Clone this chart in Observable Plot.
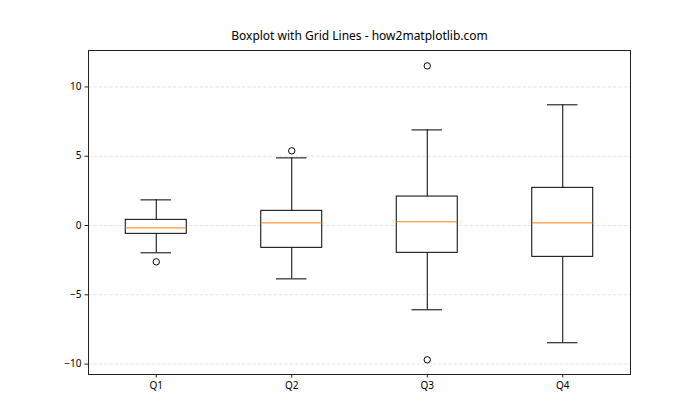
<!DOCTYPE html>
<html>
<head>
<meta charset="utf-8">
<script src="https://cdn.jsdelivr.net/npm/d3@7"></script>
<script src="https://cdn.jsdelivr.net/npm/@observablehq/plot@0.6"></script>
<style>
  html, body { margin: 0; padding: 0; background: white; }
  #chart { width: 700px; height: 420px; }
</style>
</head>
<body>
<div id="chart"></div>
<script>
// Data
const categories = ["Q1", "Q2", "Q3", "Q4"];
const whiskerLow  = [-1.97, -3.85, -6.08, -8.46];
const boxLow      = [-0.60, -1.61, -1.97, -2.26];
const medians     = [-0.17, 0.19, 0.27, 0.19];
const boxHigh     = [0.41, 1.06, 2.09, 2.72];
const whiskerHigh = [1.85, 4.88, 6.90, 8.71];
const outlierCat  = ["Q1", "Q2", "Q3", "Q3"];
const outlierVal  = [-2.62, 5.39, 11.52, -9.69];
const yTicks = [-10, -5, 0, 5, 10];
const title = "Boxplot with Grid Lines - how2matplotlib.com";

const halfBox = 0.225, halfCap = 0.1125;
const stats = categories.map((c, i) => ({
  cat: c, pos: i + 1,
  lo: whiskerLow[i], q1: boxLow[i], med: medians[i], q3: boxHigh[i], hi: whiskerHigh[i]
}));
const outliers = outlierCat.map((c, i) => ({pos: categories.indexOf(c) + 1, v: outlierVal[i]}));

const font = "'Noto Sans', 'Open Sans', sans-serif";

const chart = Plot.plot({
  width: 700,
  height: 420,
  marginLeft: 88,
  marginRight: 70,
  marginTop: 50,
  marginBottom: 46,
  style: {fontFamily: font, fontSize: "10px", color: "black", background: "white"},
  x: {type: "linear", domain: [0.5, 4.5], axis: null, label: null},
  y: {domain: [-10.75, 12.63], axis: null, label: null},
  marks: [
    Plot.ruleY(yTicks, {stroke: "#cfcfcf", strokeOpacity: 0.7, strokeDasharray: "3.7,1.6", strokeWidth: 0.8}),
    Plot.ruleX(stats, {x: "pos", y1: "q3", y2: "hi", stroke: "black", strokeWidth: 1}),
    Plot.ruleX(stats, {x: "pos", y1: "lo", y2: "q1", stroke: "black", strokeWidth: 1}),
    Plot.ruleY(stats, {y: "hi", x1: d => d.pos - halfCap, x2: d => d.pos + halfCap, stroke: "black", strokeWidth: 1}),
    Plot.ruleY(stats, {y: "lo", x1: d => d.pos - halfCap, x2: d => d.pos + halfCap, stroke: "black", strokeWidth: 1}),
    Plot.rect(stats, {x1: d => d.pos - halfBox, x2: d => d.pos + halfBox, y1: "q1", y2: "q3", fill: "white", stroke: "black", strokeWidth: 1}),
    Plot.ruleY(stats, {y: "med", x1: d => d.pos - halfBox, x2: d => d.pos + halfBox, stroke: "#ff7f0e", strokeWidth: 1}),
    Plot.dot(outliers, {x: "pos", y: "v", r: 3.2, stroke: "black", fill: "none", strokeWidth: 1}),
    Plot.frame({stroke: "#222", strokeWidth: 1}),
    Plot.axisY(yTicks, {tickSize: 3.5, tickPadding: 3.5, fontSize: 10, stroke: "#222", label: null}),
    Plot.axisX([1, 2, 3, 4], {tickSize: 3.5, tickPadding: 3.5, fontSize: 10, tickFormat: d => categories[d - 1], stroke: "#222", label: null}),
    Plot.text([title], {frameAnchor: "top", dy: -11, fontSize: 12, fill: "black", textAnchor: "middle", lineAnchor: "bottom"})
  ]
});
document.getElementById("chart").appendChild(chart);
</script>
</body>
</html>
